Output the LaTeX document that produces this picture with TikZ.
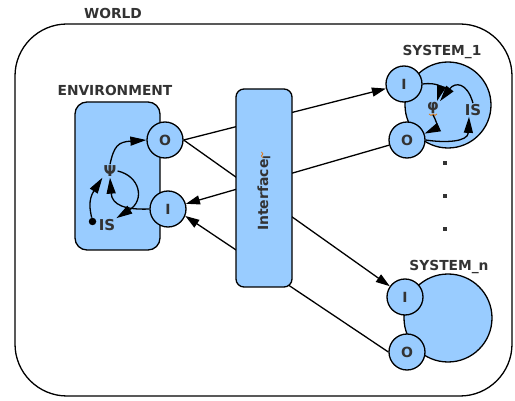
\documentclass[tikz,border=0pt]{standalone}
\usepackage{fontspec}
\setmainfont{DejaVu Sans}
\usetikzlibrary{arrows.meta}
\definecolor{fillblue}{RGB}{153,204,255}
\definecolor{txt}{RGB}{51,51,51}
\definecolor{squig}{RGB}{225,120,20}
\tikzset{
  box/.style={draw=black, fill=fillblue, line width=1.3pt, inner sep=0pt},
  port/.style={circle, draw=black, fill=fillblue, line width=1.3pt, minimum size=36pt, inner sep=0pt, text=txt, font=\fontsize{14}{16}\selectfont\bfseries},
  big/.style={circle, draw=black, fill=fillblue, line width=1.3pt, inner sep=0pt},
  lbl/.style={text=txt, font=\fontsize{13.8}{16}\selectfont\bfseries, inner sep=0pt},
  ilbl/.style={text=txt, font=\fontsize{15}{17}\selectfont\bfseries, inner sep=1pt},
  conn/.style={line width=1.3pt, -{Triangle[length=14pt,width=9pt]}},
  iconn/.style={line width=1.3pt, -{Triangle[length=16pt,width=9pt]}},
  sq/.style={fill=txt, minimum size=4.5pt, inner sep=0pt},
  squigline/.style={draw=squig, line width=0.8pt},
}
\begin{document}
\begin{tikzpicture}[x=1pt,y=-1pt]
\useasboundingbox (0,0) rectangle (515,401);
% world
\draw[line width=1.3pt, rounded corners=52pt] (15,24) rectangle (512,396);
\node[lbl] (world) at (113,13) {WORLD};
% environment
\node[lbl] (envlbl) at (115,90) {ENVIRONMENT};
\node[box, rounded corners=12pt, minimum width=85pt, minimum height=148pt] (env) at (117.5,176) {};
\node[port] (envO) at (165,140) {O};
\node[port] (envI) at (168,209) {I};
\node[ilbl] (psi) at (110,171) {Ψ};
\node[ilbl] (is1) at (107,225) {IS};
\node[circle, fill=black, inner sep=0pt, minimum size=7.5pt] (dot) at (92.5,221.5) {};
% system 1
\node[lbl] (s1lbl) at (442,52) {SYSTEM\_1};
\node[big, minimum size=86pt] (s1) at (448,105) {};
\node[port] (s1I) at (404,84) {I};
\node[port] (s1O) at (407,140) {O};
\node[ilbl] (phi) at (433,108) {φ};
\node[ilbl] (is2) at (473,110) {IS};
\draw[squigline] ([shift={(-4,-1)}]phi.south) -- ++(2,1.5) -- ++(2,-1.5) -- ++(2,1.5) -- ++(2,-1.5);
% system n
\node[lbl] (snlbl) at (449,267) {SYSTEM\_n};
\node[big, minimum size=88pt] (sn) at (448,318) {};
\node[port] (snI) at (405,297) {I};
\node[port] (snO) at (407,352) {O};
% dots
\node[sq] (d1) at (445,163) {};
\node[sq] (d2) at (445,196) {};
\node[sq] (d3) at (445,229) {};
% environment internal
\draw[iconn] (psi.north) .. controls (114,146) and (118,142) .. (envO.west);
\draw[iconn] (dot) .. controls (90,210) and (88,200) .. (psi.south west);
\draw[iconn] (envI.west) .. controls (125,210) and (112,205) .. (psi.south);
\draw[iconn] (psi.east) .. controls (140,176) and (145,200) .. (is1.north east);
% system 1 internal
\draw[iconn] (s1I.east) .. controls (438,82) and (441,88) .. (phi.60);
\draw[iconn] (is2.north) .. controls (467,82) and (455,82) .. (phi.north east);
\draw[iconn] (phi.south) .. controls (438,124) and (437,128) .. (s1O.20);
\draw[iconn] (s1O.0) .. controls (445,143) and (468,142) .. ([xshift=-4pt]is2.south);
% connectors
\draw[conn] (envO.east) -- (s1I);
\draw[conn] (envO.east) -- (snI);
\draw[conn] (s1O) -- (envI);
\draw[conn] (snO.west) -- (envI.-22);
% interface
\node[box, rounded corners=8pt, minimum width=56pt, minimum height=198pt] (iface) at (264,188) {};
\node[lbl, rotate=90, font=\fontsize{14}{16}\selectfont\bfseries] (ifacelbl) at (264,193) {Interface\textsubscript{I}};
\draw[squigline] ([shift={(4,-3)}]ifacelbl.north east) -- ++(1.5,2) -- ++(-1.5,2) -- ++(1.5,2);
\end{tikzpicture}
\end{document}
